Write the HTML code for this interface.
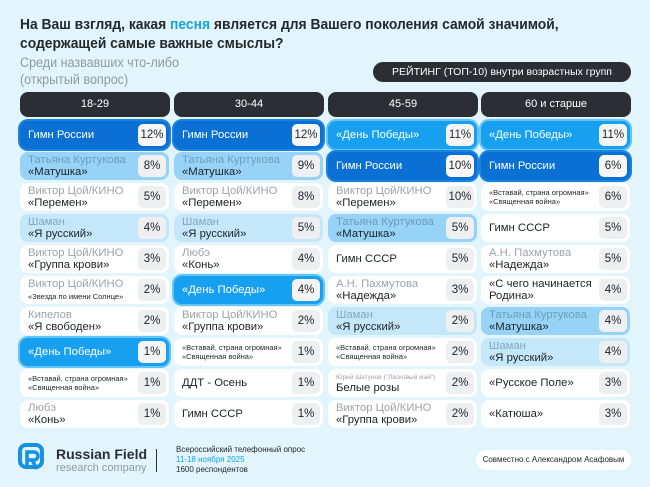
<!DOCTYPE html><html><head><meta charset="utf-8"><style>
*{box-sizing:border-box;margin:0;padding:0}
body{width:650px;height:487px;background:#e2f4fc;font-family:"Liberation Sans","DejaVu Sans",sans-serif;position:relative;overflow:hidden;color:#1e2328}
.h1{position:absolute;left:20px;top:16px;font-size:14.5px;font-weight:bold;line-height:19px;color:#23282d;transform:scaleX(.955);transform-origin:left}
.h2{position:absolute;left:20px;top:54px;font-size:13.5px;line-height:17px;color:#8e9aa3;transform:scaleX(.93);transform-origin:left}
.pill{position:absolute;left:373px;top:62px;width:258px;height:20px;border-radius:10px;background:#2b2f34;color:#fff;font-size:10.5px;line-height:20px;text-align:center}
.hd{position:absolute;top:92px;height:25px;width:150px;border-radius:8px;background:#2b2f34;color:#fff;font-size:11px;line-height:25px;text-align:center}
.c{position:absolute;width:149px;height:28px;border-radius:8px;background:#fff;display:flex;align-items:center;padding-left:8px}
.t{flex:1;font-size:11.3px;line-height:12px;color:#1e2328;white-space:nowrap;overflow:hidden}
.t i{font-style:normal;color:#9aa4ab;display:block}
.t .sm{font-size:7.5px;line-height:9px;color:#1e2328}
.t .xs{font-size:6.5px;color:#9aa4ab;line-height:9px}
.p{width:28px;height:22px;margin-right:3px;border-radius:5px;background:#eeeff0;font-size:11.5px;line-height:22px;text-align:center;color:#1e2328}
.d{background:#0b70d4;box-shadow:0 0 0 2px #1a82e0}.d .t{color:#fff}.d .p{background:#f7f7f7}
.b{background:#16a0ef;box-shadow:0 0 0 2px #63c4f7}.b .t{color:#fff}.b .p{background:#f4f4f4}
.m{background:#97d3f6}.m .t i{color:#6c9dbc}.m .p{background:#eef0f1}
.s{background:#c5e7fa}.s .t i{color:#7fa9c2}
.foot{position:absolute;font-size:8px;line-height:10px}
</style></head><body>
<div class="h1">На Ваш взгляд, какая <span style="color:#14a3e3">песня</span> является для Вашего поколения самой значимой,<br>содержащей самые важные смыслы?</div>
<div class="h2">Среди назвавших что-либо<br>(открытый вопрос)</div>
<div class="pill">РЕЙТИНГ (ТОП-10) внутри возрастных групп</div>
<div class="hd" style="left:20px">18-29</div><div class="hd" style="left:174px">30-44</div><div class="hd" style="left:328px">45-59</div><div class="hd" style="left:481px">60 и старше</div>

<!-- col1 -->
<div class="c d" style="left:20px;top:121px"><div class="t">Гимн России</div><div class="p">12%</div></div>
<div class="c m" style="left:20px;top:152px"><div class="t"><i>Татьяна Куртукова</i>«Матушка»</div><div class="p">8%</div></div>
<div class="c" style="left:20px;top:183px"><div class="t"><i>Виктор Цой/КИНО</i>«Перемен»</div><div class="p">5%</div></div>
<div class="c s" style="left:20px;top:214px"><div class="t"><i>Шаман</i>«Я русский»</div><div class="p">4%</div></div>
<div class="c" style="left:20px;top:245px"><div class="t"><i>Виктор Цой/КИНО</i>«Группа крови»</div><div class="p">3%</div></div>
<div class="c" style="left:20px;top:276px"><div class="t"><i>Виктор Цой/КИНО</i><span class="sm">«Звезда по имени Солнце»</span></div><div class="p">2%</div></div>
<div class="c" style="left:20px;top:307px"><div class="t"><i>Кипелов</i>«Я свободен»</div><div class="p">2%</div></div>
<div class="c b" style="left:20px;top:338px"><div class="t">«День Победы»</div><div class="p">1%</div></div>
<div class="c" style="left:20px;top:369px"><div class="t"><div class="sm">«Вставай, страна огромная»</div><div class="sm">«Священная война»</div></div><div class="p">1%</div></div>
<div class="c" style="left:20px;top:400px"><div class="t"><i>Любэ</i>«Конь»</div><div class="p">1%</div></div>
<!-- col2 -->
<div class="c d" style="left:174px;top:121px"><div class="t">Гимн России</div><div class="p">12%</div></div>
<div class="c m" style="left:174px;top:152px"><div class="t"><i>Татьяна Куртукова</i>«Матушка»</div><div class="p">9%</div></div>
<div class="c" style="left:174px;top:183px"><div class="t"><i>Виктор Цой/КИНО</i>«Перемен»</div><div class="p">8%</div></div>
<div class="c s" style="left:174px;top:214px"><div class="t"><i>Шаман</i>«Я русский»</div><div class="p">5%</div></div>
<div class="c" style="left:174px;top:245px"><div class="t"><i>Любэ</i>«Конь»</div><div class="p">4%</div></div>
<div class="c b" style="left:174px;top:276px"><div class="t">«День Победы»</div><div class="p">4%</div></div>
<div class="c" style="left:174px;top:307px"><div class="t"><i>Виктор Цой/КИНО</i>«Группа крови»</div><div class="p">2%</div></div>
<div class="c" style="left:174px;top:338px"><div class="t"><div class="sm">«Вставай, страна огромная»</div><div class="sm">«Священная война»</div></div><div class="p">1%</div></div>
<div class="c" style="left:174px;top:369px"><div class="t">ДДТ - Осень</div><div class="p">1%</div></div>
<div class="c" style="left:174px;top:400px"><div class="t">Гимн СССР</div><div class="p">1%</div></div>
<!-- col3 -->
<div class="c b" style="left:328px;top:121px"><div class="t">«День Победы»</div><div class="p">11%</div></div>
<div class="c d" style="left:328px;top:152px"><div class="t">Гимн России</div><div class="p">10%</div></div>
<div class="c" style="left:328px;top:183px"><div class="t"><i>Виктор Цой/КИНО</i>«Перемен»</div><div class="p">10%</div></div>
<div class="c m" style="left:328px;top:214px"><div class="t"><i>Татьяна Куртукова</i>«Матушка»</div><div class="p">5%</div></div>
<div class="c" style="left:328px;top:245px"><div class="t">Гимн СССР</div><div class="p">5%</div></div>
<div class="c" style="left:328px;top:276px"><div class="t"><i>А.Н. Пахмутова</i>«Надежда»</div><div class="p">3%</div></div>
<div class="c s" style="left:328px;top:307px"><div class="t"><i>Шаман</i>«Я русский»</div><div class="p">2%</div></div>
<div class="c" style="left:328px;top:338px"><div class="t"><div class="sm">«Вставай, страна огромная»</div><div class="sm">«Священная война»</div></div><div class="p">2%</div></div>
<div class="c" style="left:328px;top:369px"><div class="t"><div class="xs">Юрий Шатунов ("Ласковый май")</div>Белые розы</div><div class="p">2%</div></div>
<div class="c" style="left:328px;top:400px"><div class="t"><i>Виктор Цой/КИНО</i>«Группа крови»</div><div class="p">2%</div></div>
<!-- col4 -->
<div class="c b" style="left:481px;top:121px"><div class="t">«День Победы»</div><div class="p">11%</div></div>
<div class="c d" style="left:481px;top:152px"><div class="t">Гимн России</div><div class="p">6%</div></div>
<div class="c" style="left:481px;top:183px"><div class="t"><div class="sm">«Вставай, страна огромная»</div><div class="sm">«Священная война»</div></div><div class="p">6%</div></div>
<div class="c" style="left:481px;top:214px"><div class="t">Гимн СССР</div><div class="p">5%</div></div>
<div class="c" style="left:481px;top:245px"><div class="t"><i>А.Н. Пахмутова</i>«Надежда»</div><div class="p">5%</div></div>
<div class="c" style="left:481px;top:276px"><div class="t">«С чего начинается<br>Родина»</div><div class="p">4%</div></div>
<div class="c m" style="left:481px;top:307px"><div class="t"><i>Татьяна Куртукова</i>«Матушка»</div><div class="p">4%</div></div>
<div class="c s" style="left:481px;top:338px"><div class="t"><i>Шаман</i>«Я русский»</div><div class="p">4%</div></div>
<div class="c" style="left:481px;top:369px"><div class="t">«Русское Поле»</div><div class="p">3%</div></div>
<div class="c" style="left:481px;top:400px"><div class="t">«Катюша»</div><div class="p">3%</div></div>

<!-- footer -->
<svg style="position:absolute;left:18px;top:443px" width="26" height="30" viewBox="0 0 26 30"><rect x="2" y="2" width="22" height="22" rx="6" fill="none" stroke="#1592e0" stroke-width="4"/><path d="M9 26V9h7a4 4 0 0 1 0 8h-7M14 17l5 9" fill="none" stroke="#1592e0" stroke-width="3.5"/></svg>
<div class="foot" style="left:56px;top:446px;font-size:14px;font-weight:bold;line-height:16px;color:#2b2f34">Russian Field</div>
<div class="foot" style="left:56px;top:462px;font-size:11px;line-height:12px;color:#8e9aa3">research company</div>
<div style="position:absolute;left:156px;top:449px;width:1px;height:23px;background:#2b2f34"></div>
<div class="foot" style="left:176px;top:445px">Всероссийский телефонный опрос<br><span style="color:#14a3e3">11-18 ноября 2025</span><br>1600 респондентов</div>
<div style="position:absolute;left:476px;top:450px;width:155px;height:20px;border-radius:10px;background:#fff;font-size:8px;line-height:20px;text-align:center">Совместно с Александром Асафовым</div>
</body></html>
